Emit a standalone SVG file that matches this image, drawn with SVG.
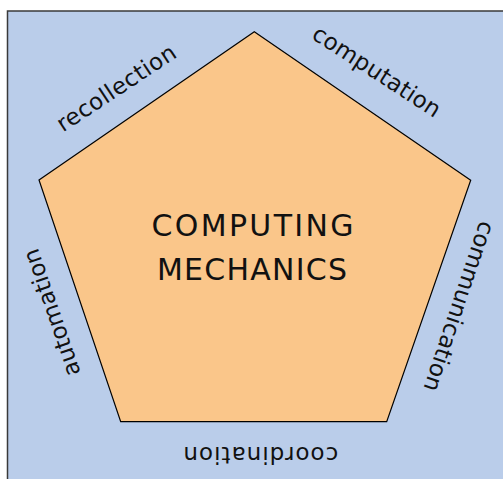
<svg xmlns="http://www.w3.org/2000/svg" width="503" height="479" viewBox="0 0 503 479">
  <style>
    .bg { fill: #BACDEA; stroke: #3a3a3a; stroke-width: 1.5; }
    .pent { fill: #FAC68A; stroke: #000000; stroke-width: 1.2; stroke-linejoin: miter; }
    .title { font-family: "DejaVu Sans", "Open Sans", sans-serif; font-size: 30px; fill: #111111; text-anchor: middle; }
    .edge { font-family: "DejaVu Sans", "Open Sans", sans-serif; font-size: 23px; fill: #111111; text-anchor: middle; }
  </style>
  <rect class="bg" x="7.5" y="11" width="510" height="490"/>
  <g id="pentagon">
    <polygon class="pent" points="254.3,31.7 470.7,180.3 386.7,421.7 120.7,421.7 39,180"/>
    <text class="title" x="252.5" y="236" textLength="202" lengthAdjust="spacing">COMPUTING</text>
    <text class="title" x="252" y="280" textLength="190" lengthAdjust="spacing">MECHANICS</text>
  </g>
  <g id="label-recollection">
    <text class="edge" transform="translate(120.5,94.5) rotate(-33.5)" textLength="138" lengthAdjust="spacing">recollection</text>
  </g>
  <g id="label-computation">
    <text class="edge" transform="translate(372.5,78) rotate(33)" textLength="148" lengthAdjust="spacing">computation</text>
  </g>
  <g id="label-communication">
    <text class="edge" transform="translate(451.8,304) rotate(108.6)" textLength="178" lengthAdjust="spacing">communication</text>
  </g>
  <g id="label-coordination">
    <text class="edge" transform="translate(260.8,446.7) rotate(180)" textLength="155" lengthAdjust="spacing">coordination</text>
  </g>
  <g id="label-automation">
    <text class="edge" transform="translate(59.2,310) rotate(-109)" textLength="133" lengthAdjust="spacing">automation</text>
  </g>
</svg>
